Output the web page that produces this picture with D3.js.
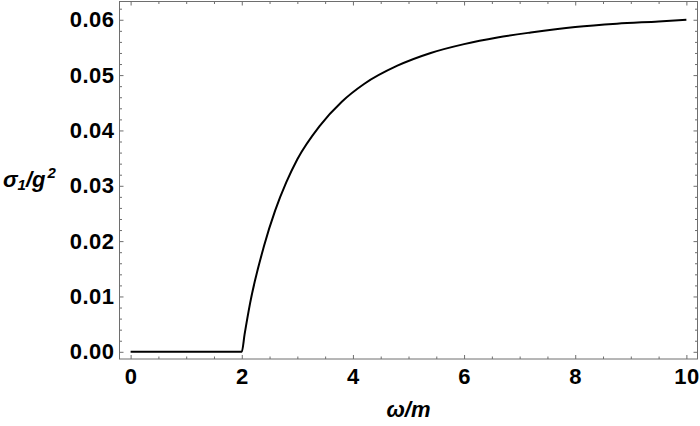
<!DOCTYPE html>
<html>
<head>
<meta charset="utf-8">
<script src="https://cdn.jsdelivr.net/npm/d3@7"></script>
<style>
  body { margin: 0; background: #fff; }
  text { font-family: "Liberation Sans", Arial, sans-serif; font-weight: bold; }
</style>
</head>
<body>
<div id="plot"></div>
<script>
// values
var omegaVals = [0, 2, 2.05, 2.15, 2.4, 2.6, 2.8, 3.0, 3.4, 3.8, 4.2, 4.8, 5.4, 6.0, 6.6, 7.2, 8.0, 8.75, 9.5, 10];
var sigmaVals = [0, 0, 0.0031, 0.0088, 0.0191, 0.0255, 0.0306, 0.0348, 0.0408, 0.0452, 0.0484, 0.0517, 0.0540, 0.0556, 0.0568, 0.0577, 0.0587, 0.0593, 0.0597, 0.0600];
var xTickVals = [0, 2, 4, 6, 8, 10];
var yTickVals = [0, 0.01, 0.02, 0.03, 0.04, 0.05, 0.06];

function start(){
    var width = 700, height = 426;
    var frame = {left: 119.5, right: 697.5, top: 1.5, bottom: 359};

    var svg = d3.select('#plot').append("svg")
                .attr("width", width)
                .attr("height", height);

    var xScale = d3.scaleLinear()
                   .domain([-0.2, 10.2])
                   .range([frame.left, frame.right]);

    var yScale = d3.scaleLinear()
                   .domain([-0.0013, 0.0633])
                   .range([frame.bottom, frame.top]);

    var xMinor = d3.range(0, 10.01, 0.5).filter(function(d){ return d % 2 != 0; });
    var yMinor = d3.range(0, 0.0625, 0.002).filter(function(d){ return Math.abs(d * 100 - Math.round(d * 100)) > 1e-6; });

    function styleTicks(g){
        g.select(".domain").remove();
        g.selectAll("line").attr("stroke", "#6e6e6e");
    }

    // bottom: major ticks with labels
    svg.append("g")
       .attr("transform", `translate(0,${frame.bottom})`)
       .call(d3.axisBottom(xScale).tickValues(xTickVals).tickSize(-4).tickPadding(9).tickFormat(d3.format("d")))
       .call(styleTicks)
       .selectAll("text")
       .style("font-size", "22px")
       .style("letter-spacing", "0.5px")
       .attr("fill", "#000");
    svg.append("g")
       .attr("transform", `translate(0,${frame.bottom})`)
       .call(d3.axisBottom(xScale).tickValues(xMinor).tickSize(-2.5).tickFormat(""))
       .call(styleTicks);

    // top: mirrored ticks
    svg.append("g")
       .attr("transform", `translate(0,${frame.top})`)
       .call(d3.axisTop(xScale).tickValues(xTickVals).tickSize(-4).tickFormat(""))
       .call(styleTicks);
    svg.append("g")
       .attr("transform", `translate(0,${frame.top})`)
       .call(d3.axisTop(xScale).tickValues(xMinor).tickSize(-2.5).tickFormat(""))
       .call(styleTicks);

    // left: major ticks with labels
    svg.append("g")
       .attr("transform", `translate(${frame.left},0)`)
       .call(d3.axisLeft(yScale).tickValues(yTickVals).tickSize(-4).tickPadding(5).tickFormat(d3.format(".2f")))
       .call(styleTicks)
       .selectAll("text")
       .style("font-size", "22px")
       .style("letter-spacing", "0.5px")
       .attr("fill", "#000");
    svg.append("g")
       .attr("transform", `translate(${frame.left},0)`)
       .call(d3.axisLeft(yScale).tickValues(yMinor).tickSize(-2.5).tickFormat(""))
       .call(styleTicks);

    // right: mirrored ticks
    svg.append("g")
       .attr("transform", `translate(${frame.right},0)`)
       .call(d3.axisRight(yScale).tickValues(yTickVals).tickSize(-4).tickFormat(""))
       .call(styleTicks);
    svg.append("g")
       .attr("transform", `translate(${frame.right},0)`)
       .call(d3.axisRight(yScale).tickValues(yMinor).tickSize(-2.5).tickFormat(""))
       .call(styleTicks);

    // frame
    svg.append("rect")
       .attr("x", frame.left)
       .attr("y", frame.top)
       .attr("width", frame.right - frame.left)
       .attr("height", frame.bottom - frame.top)
       .attr("fill", "none")
       .attr("stroke", "#6e6e6e")
       .attr("stroke-width", 1);

    // curve
    var data = omegaVals.map(function(d, i){ return [d, sigmaVals[i]]; });
    var line = d3.line()
                 .x(function(d){ return xScale(d[0]); })
                 .y(function(d){ return yScale(d[1]); })
                 .curve(d3.curveMonotoneX);

    svg.append("path")
       .datum(data)
       .attr("d", line)
       .attr("fill", "none")
       .attr("stroke", "#000")
       .attr("stroke-width", 2);

    // axis labels
    svg.append("text")
       .attr("x", (frame.left + frame.right) / 2)
       .attr("y", 416.5)
       .attr("text-anchor", "middle")
       .style("font-size", "22px")
       .style("font-style", "italic")
       .text("ω/m");

    var yLab = svg.append("text")
       .attr("x", 3)
       .attr("y", 186.5)
       .attr("text-anchor", "start")
       .style("font-size", "22px")
       .style("font-style", "italic");
    yLab.append("tspan").text("σ");
    yLab.append("tspan").attr("dy", 3).style("font-size", "15px").text("1");
    yLab.append("tspan").attr("dy", -3).text("/g");
    yLab.append("tspan").attr("dy", -9).attr("dx", 2).style("font-size", "15px").text("2");
}

start();
</script>
</body>
</html>
